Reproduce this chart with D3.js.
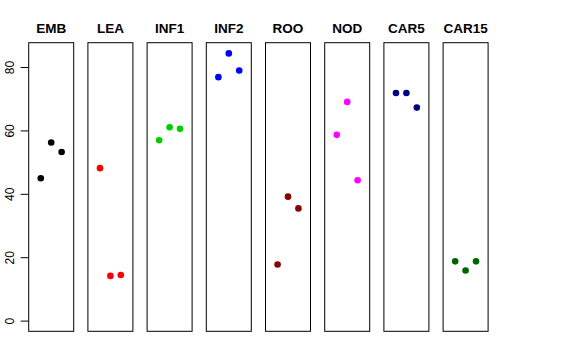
<!DOCTYPE html>
<html><head><meta charset="utf-8">
<script src="https://cdn.jsdelivr.net/npm/d3@7"></script>
<style>body{margin:0;background:#fff}svg{display:block}</style>
</head><body>
<svg id="c" width="576" height="360"></svg>
<script>
const categories = ["EMB","LEA","INF1","INF2","ROO","NOD","CAR5","CAR15"];
const colors = ["#000000","#FF0000","#00CD00","#0000FF","#8B0000","#FF00FF","#000080","#006400"];
const xPositions = [1,2,3];
const valuesEMB = [44.9,56.2,53.2];
const valuesLEA = [48.1,14.1,14.4];
const valuesINF1 = [56.9,61.0,60.5];
const valuesINF2 = [76.8,84.3,78.9];
const valuesROO = [17.7,39.1,35.4];
const valuesNOD = [58.6,69.0,44.3];
const valuesCAR5 = [71.8,71.8,67.2];
const valuesCAR15 = [18.7,15.8,18.7];
const yTicks = [0,20,40,60,80];
const series = [valuesEMB,valuesLEA,valuesINF1,valuesINF2,valuesROO,valuesNOD,valuesCAR5,valuesCAR15];

const svg = d3.select("#c");
const plotTop = 42.7, plotBottom = 331.3;
const panelLeft = 28.7, panelWidth = 45, pitch = 59.2;
const ymax = d3.max(series.flat());
const ext = 0.04*ymax;
const y = d3.scaleLinear().domain([-ext, ymax+ext]).range([plotBottom, plotTop]);
const x = d3.scaleLinear().domain([-0.16, 4.16]);

// y axis
const ax = svg.append("g").attr("transform",`translate(${panelLeft},0)`)
  .call(d3.axisLeft(y).tickValues(yTicks).tickSize(8).tickSizeOuter(0).tickPadding(5));
ax.select(".domain").remove();
ax.selectAll(".tick line").attr("stroke","#000");
ax.selectAll(".tick text")
  .attr("font-family","Liberation Sans, Arial, sans-serif").attr("font-size",12).attr("fill","#000")
  .attr("text-anchor","middle").attr("x",0).attr("dy",0)
  .attr("transform","translate(-19,0) rotate(-90)").attr("dominant-baseline","central");

categories.forEach((cat,i)=>{
  const x0 = panelLeft + i*pitch;
  const g = svg.append("g");
  const xs = x.copy().range([x0, x0+panelWidth]);
  g.append("rect").attr("x",x0).attr("y",plotTop).attr("width",panelWidth).attr("height",plotBottom-plotTop)
    .attr("fill","none").attr("stroke","#000").attr("stroke-width",1);
  g.append("text").attr("x",x0+panelWidth/2).attr("y",33.3).attr("text-anchor","middle")
    .attr("font-family","Liberation Sans, Arial, sans-serif").attr("font-weight","bold").attr("font-size",13.5)
    .text(cat);
  g.selectAll("circle").data(series[i]).join("circle")
    .attr("cx",(d,j)=>xs(xPositions[j])).attr("cy",d=>y(d)).attr("r",3.3).attr("fill",colors[i]);
});
</script>
</body></html>
